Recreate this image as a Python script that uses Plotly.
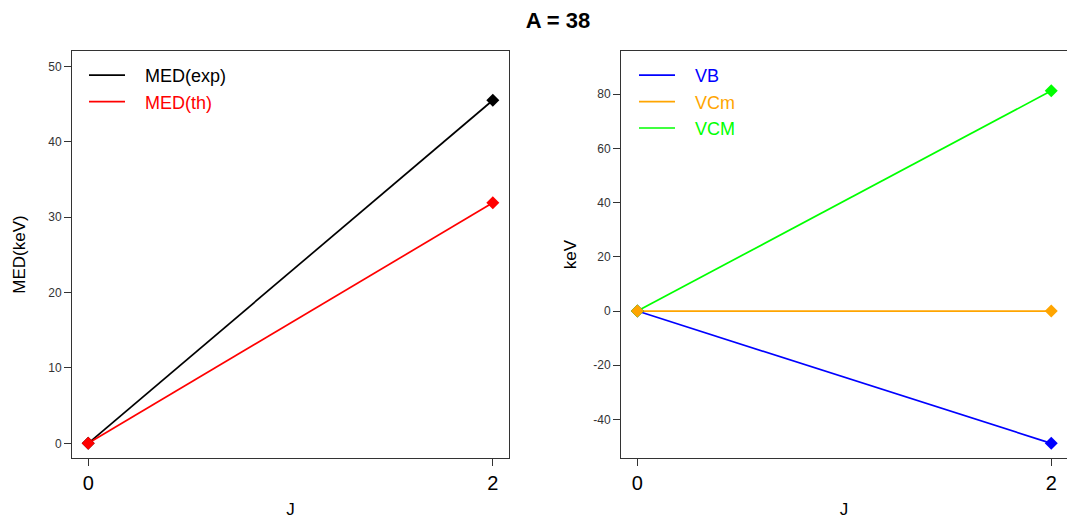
import plotly.graph_objects as go

J = [0, 2]
med_exp = [0, 45.5]
med_th = [0, 31.9]
vb = [0, -48.8]
vcm_min = [0, 0]
vcm_max = [0, 81.2]

left_yticks = [0, 10, 20, 30, 40, 50]
right_yticks = [-40, -20, 0, 20, 40, 60, 80]

W, H = 1067, 519
def px(x): return x / W
def py(y): return 1 - y / H

fig = go.Figure()

def legname(name, color):
    return f"&nbsp;&nbsp;&nbsp;<span style='color:{color}'>{name}</span>"

# left panel lines
for ys, c, n in [(med_exp, "black", "MED(exp)"), (med_th, "red", "MED(th)")]:
    fig.add_trace(go.Scatter(x=J, y=ys, mode="lines", line=dict(color=c, width=1.7),
                             name=legname(n, c), xaxis="x", yaxis="y", legend="legend"))
for ys, c in [(med_exp, "black"), (med_th, "red")]:
    fig.add_trace(go.Scatter(x=J, y=ys, mode="markers",
                             marker=dict(symbol="diamond", size=10, color=c),
                             showlegend=False, xaxis="x", yaxis="y"))

# right panel lines
for ys, c, n in [(vb, "blue", "VB"), (vcm_min, "orange", "VCm"), (vcm_max, "#00ff00", "VCM")]:
    fig.add_trace(go.Scatter(x=J, y=ys, mode="lines", line=dict(color=c, width=1.7),
                             name=legname(n, c), xaxis="x2", yaxis="y2", legend="legend2"))
for ys, c in [(vb, "blue"), (vcm_max, "#00ff00"), (vcm_min, "orange")]:
    fig.add_trace(go.Scatter(x=J, y=ys, mode="markers",
                             marker=dict(symbol="diamond", size=10, color=c),
                             showlegend=False, xaxis="x2", yaxis="y2"))

fam = "Liberation Sans, Arial, sans-serif"
common_x = dict(showline=True, mirror=True, linecolor="#333", linewidth=1,
                ticks="outside", ticklen=7, tickcolor="#333", showgrid=False, zeroline=False,
                tickvals=J, tickfont=dict(size=20, color="black", family=fam),
                title=dict(text="J", font=dict(size=17, color="black", family=fam), standoff=12))
common_y = dict(showline=True, mirror=True, linecolor="#333", linewidth=1,
                ticks="outside", ticklen=7, tickcolor="#333", showgrid=False, zeroline=False,
                tickfont=dict(size=12, color="#333", family=fam))

fig.update_layout(
    width=W, height=H,
    margin=dict(l=0, r=0, t=0, b=0),
    plot_bgcolor="white", paper_bgcolor="white",
    font=dict(family=fam),
    title=dict(text="<b>A = 38</b>", x=px(558), xanchor="center", y=py(20), yanchor="middle",
               font=dict(size=22, color="black")),
    xaxis=dict(domain=[px(72), px(509)], range=[-0.08, 2.08], anchor="y", **common_x),
    yaxis=dict(domain=[py(458), py(51)], range=[-1.95, 52.03], anchor="x",
               tickvals=left_yticks, ticktext=[str(v) for v in left_yticks],
               title=dict(text="MED(keV)", font=dict(size=17, color="black"), standoff=18),
               **common_y),
    xaxis2=dict(domain=[px(621), 1.0], range=[-0.079, 2.076], anchor="y2", **common_x),
    yaxis2=dict(domain=[py(458), py(51)], range=[-54.2, 95.9], anchor="x2",
                tickvals=right_yticks, ticktext=[str(v) for v in right_yticks],
                title=dict(text="keV", font=dict(size=17, color="black"), standoff=12),
                **common_y),
    legend=dict(x=px(84), y=py(57), xanchor="left", yanchor="top", bgcolor="rgba(0,0,0,0)",
                font=dict(size=18, color="black"), tracegroupgap=0, itemwidth=36),
    legend2=dict(x=px(634), y=py(57), xanchor="left", yanchor="top", bgcolor="rgba(0,0,0,0)",
                 font=dict(size=18, color="black"), tracegroupgap=0, itemwidth=36),
)

fig.write_html("out.html")
